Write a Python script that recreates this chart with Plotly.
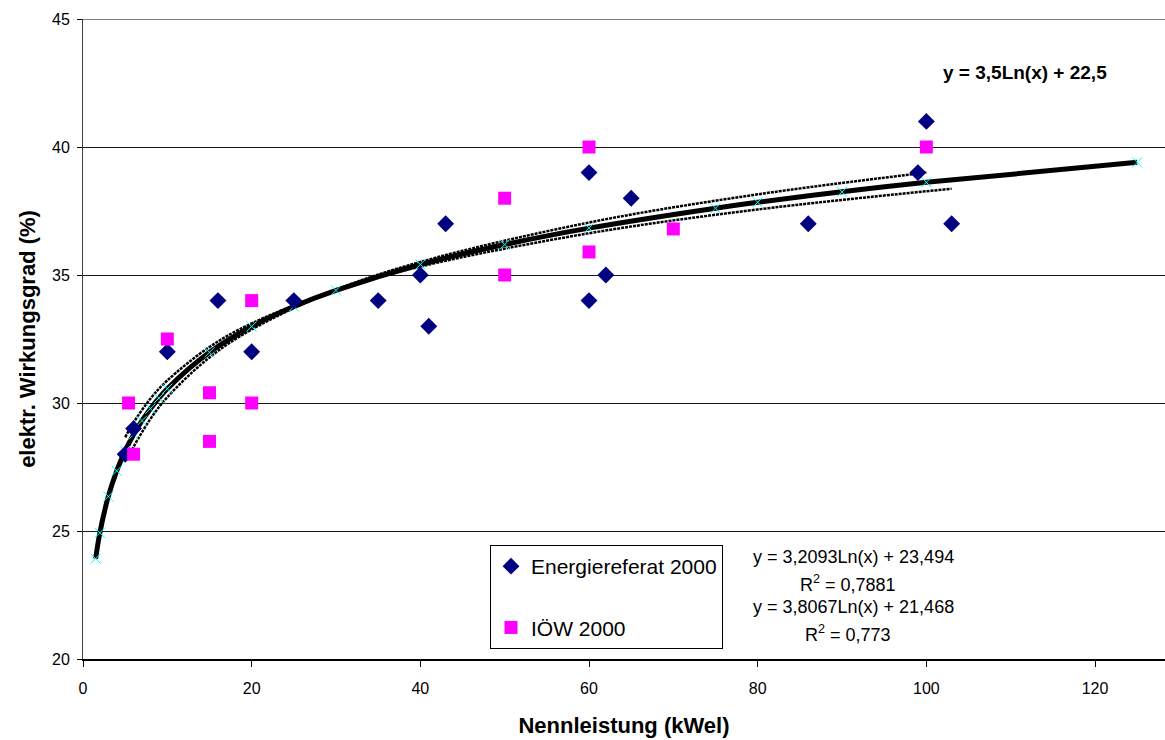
import plotly.graph_objects as go

# --- data ---
energie_x = [5, 6, 10, 16, 20, 25, 35, 40, 41, 43, 60, 60, 62, 65, 86, 99, 100, 103]
energie_y = [28, 29, 32, 34, 32, 34, 34, 35, 33, 37, 39, 34, 35, 38, 37, 39, 41, 37]

ioew_x = [5.4, 6, 10, 15, 15, 20, 20, 50, 50, 60, 60, 70, 100]
ioew_y = [30, 28, 32.5, 30.4, 28.5, 34, 30, 38, 35, 40, 35.9, 36.8, 40]

# model curve y = 3,5Ln(x) + 22,5 (points with cyan markers)
model_x = [1.5, 2, 3, 4, 5, 6, 7, 8, 9, 10, 15, 20, 25, 30, 40, 50, 60, 75, 80, 90, 100, 125]
model_y = [23.92, 24.93, 26.35, 27.35, 28.13, 28.77, 29.31, 29.78, 30.19, 30.56, 31.98,
           32.99, 33.77, 34.40, 35.41, 36.19, 36.83, 37.61, 37.84, 38.25, 38.62, 39.40]

# trendline points (Energiereferat, IÖW)
trend_e_x = [5, 6, 8, 10, 15, 20, 30, 40, 60, 80, 103]
trend_e_y = [28.66, 29.24, 30.17, 30.88, 32.19, 33.11, 34.41, 35.33, 36.63, 37.56, 38.37]
trend_i_x = [5.4, 6, 8, 10, 15, 20, 30, 40, 60, 80, 100]
trend_i_y = [27.89, 28.29, 29.38, 30.23, 31.78, 32.87, 34.42, 35.51, 37.05, 38.15, 39.00]

x_ticks = [0, 20, 40, 60, 80, 100, 120]
y_ticks = [20, 25, 30, 35, 40, 45]

eq_texts = ["y = 3,2093Ln(x) + 23,494", "R<sup>2</sup> = 0,7881",
            "y = 3,8067Ln(x) + 21,468", "R<sup>2</sup> = 0,773"]
model_text = "<b>y = 3,5Ln(x) + 22,5</b>"

FONT = "Arial, Liberation Sans, sans-serif"

fig = go.Figure()

for tx, ty in [(trend_e_x, trend_e_y), (trend_i_x, trend_i_y)]:
    fig.add_trace(go.Scatter(x=tx, y=ty, mode="lines", line_shape="spline",
                             line=dict(color="black", width=2.5, dash="3px,1px"),
                             showlegend=False, hoverinfo="skip"))
fig.add_trace(go.Scatter(x=model_x, y=model_y, mode="lines+markers", line_shape="spline",
                         line=dict(color="black", width=5),
                         marker=dict(symbol="x-thin", size=10, color="#00FFFF",
                                     line=dict(color="#00FFFF", width=1)),
                         showlegend=False, hoverinfo="skip"))
fig.add_trace(go.Scatter(x=energie_x, y=energie_y, mode="markers", name="Energiereferat 2000",
                         legendgroup="e",
                         marker=dict(symbol="diamond", size=13, color="#000080")))
fig.add_trace(go.Scatter(x=ioew_x, y=ioew_y, mode="markers", name="IÖW 2000",
                         legendgroup="i",
                         marker=dict(symbol="square", size=13, color="#FF00FF")))

fig.add_shape(type="line", xref="paper", yref="y", x0=0, x1=1, y0=45, y1=45,
              line=dict(color="#808080", width=2))

PW, PH = 1082, 640
ann_font = dict(family=FONT, size=18, color="black")
for txt, py, px in zip(eq_texts, [557, 583, 607, 633], [853, 848, 853, 848]):
    fig.add_annotation(x=(px - 83) / PW, y=(659 - py) / PH, xref="paper", yref="paper",
                       xanchor="center", yanchor="middle",
                       text=txt, showarrow=False, font=ann_font)
fig.add_annotation(x=(1025 - 83) / PW, y=(659 - 73) / PH, xref="paper", yref="paper",
                   xanchor="center", yanchor="middle",
                   text=model_text, showarrow=False,
                   font=dict(family=FONT, size=19, color="black"))

fig.update_layout(
    width=1165, height=740,
    margin=dict(l=83, r=0, t=19, b=81),
    paper_bgcolor="white", plot_bgcolor="white",
    font=dict(family=FONT, size=16, color="black"),
    showlegend=True,
    legend=dict(x=(490 - 83) / PW, y=(659 - 545) / PH, xanchor="left", yanchor="top",
                bgcolor="white", bordercolor="black", borderwidth=1,
                font=dict(family=FONT, size=21, color="black"),
                tracegroupgap=31, traceorder="grouped"),
    xaxis=dict(range=[0, 128.3], tickvals=x_ticks, ticks="outside", ticklen=6,
               tickcolor="black", showline=True, linecolor="black", linewidth=1.5,
               showgrid=False, zeroline=False, ticklabelstandoff=8,
               title=dict(text="<b>Nennleistung (kWel)</b>", font=dict(family=FONT, size=22),
                          standoff=22),
               tickfont=dict(family=FONT, size=16)),
    yaxis=dict(range=[20, 45], tickvals=y_ticks, ticks="outside", ticklen=5,
               tickcolor="black", showline=True, linecolor="#404040", linewidth=1,
               showgrid=True, gridcolor="#1a1a1a", gridwidth=1, zeroline=False,
               ticklabelstandoff=4,
               title=dict(text="<b>elektr. Wirkungsgrad (%)</b>", font=dict(family=FONT, size=22),
                          standoff=10),
               tickfont=dict(family=FONT, size=16)),
)

fig.write_html("out.html")
